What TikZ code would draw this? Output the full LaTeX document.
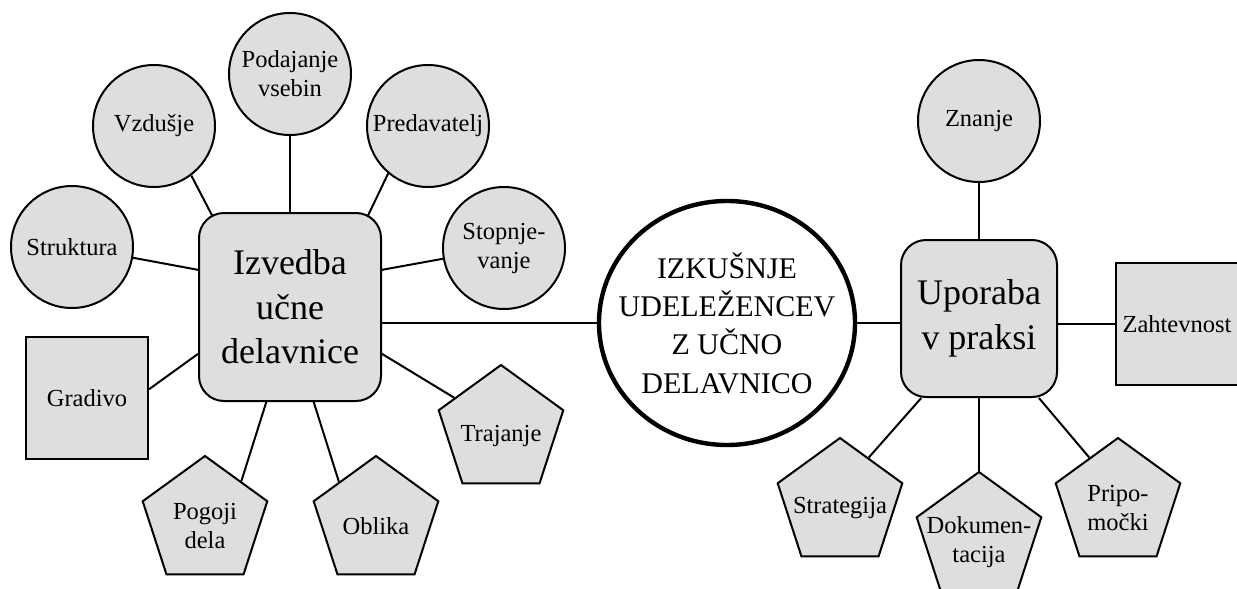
\documentclass[tikz,border=0pt]{standalone}
\usepackage{fontspec}
\setmainfont{Liberation Serif}
\usetikzlibrary{shapes.geometric}
\definecolor{boxgray}{RGB}{221,222,224}
\pgfdeclarelayer{background}
\pgfsetlayers{background,main}

\begin{document}
\begin{tikzpicture}
      [x=0.5pt, y=-0.5pt,
       every node/.style={font=\fontsize{12.25}{14.5}\selectfont, align=center},
       topic/.style={
           circle,
           minimum size=61pt,
           inner sep=1pt,
           draw=black, line width=1pt,
           fill=boxgray
         },
       aspect/.style={
           rectangle,
           minimum size=61pt,
           inner sep=1pt,
           draw=black, line width=1pt,
           fill=boxgray
         },
       factor/.style={
           regular polygon,
           regular polygon sides=5,
           minimum size=65.5pt,
           inner sep=0pt,
           draw=black, line width=1pt,
           fill=boxgray,
           label={[yshift=-2.5pt]center:#1}
         },
       hub/.style={
           rectangle,
           rounded corners=12.5pt,
           draw=black, line width=1pt,
           fill=boxgray,
           font=\fontsize{18}{22.25}\selectfont
         },
       core/.style={
           ellipse,
           minimum width=128pt, minimum height=122pt,
           inner sep=0pt,
           draw=black, line width=2.2pt,
           fill=white,
           label={[font=\fontsize{15}{19.2}\selectfont]center:#1}
         },
       link/.style={draw=black, line width=1pt}
       ]
    \useasboundingbox (0,0) rectangle (1237,589);

    \node [topic] (poda) at (290,74) {Podajanje\\vsebin};
    \node [topic] (vzd) at (154,126) {Vzdušje};
    \node [topic] (pred) at (428,126) {Predavatelj};
    \node [topic] (struk) at (72,247) {Struktura};
    \node [topic] (stop) at (504,248) {Stopnje-\\vanje};
    \node [aspect] (grad) at (87,398) {Gradivo};

    \node [factor={Pogoji\\dela}] (pog) at (205,521.5) {};
    \node [factor=Oblika] (obl) at (376,521.5) {};
    \node [factor=Trajanje] (traj) at (501,430.5) {};

    \node [hub, minimum width=91pt, minimum height=94pt] (izv) at (290,307) {
      Izvedba\\učne\\delavnice
    };

    \node [core={IZKUŠNJE\\UDELEŽENCEV\\Z UČNO\\DELAVNICO}] (izk) at (727,323) {};

    \node [hub, minimum width=78pt, minimum height=78.5pt] (upo) at (979,318.5) {
      Uporaba\\v praksi
    };

    \node [topic] (zna) at (979,121) {Znanje};
    \node [aspect] (zah) at (1177,324) {Zahtevnost};
    \node [factor=Strategija] (str) at (840,503.5) {};
    \node [factor={Dokumen-\\tacija}] (dok) at (979,537.5) {};
    \node [factor={Pripo-\\močki}] (pri) at (1118,503.5) {};

    \begin{pgfonlayer}{background}
      \path (poda) edge [link] (izv)
            (vzd.-53) edge [link, shorten >=-8pt] (izv.130)
            (pred.230) edge [link, shorten >=-8pt] (izv.50)
            (struk.-10) edge [link] (izv.158)
            (stop.190) edge [link] (izv.22)
            (grad.8) edge [link] (izv.207)
            (traj.145) edge [link] (izv.-27)
            (pog.48) edge [link] (izv.-104)
            (obl.133) edge [link] (izv.-76)
            (izk.west) edge [link] (izk.west -| izv.east)
            (izk.east) edge [link] (izk.east -| upo.west)
            (zah.west) edge [link] (zah.west -| upo.east)
            (zna) edge [link] (upo)
            (upo) edge [link] (dok)
            (str.58) edge [link] (upo.-126)
            (pri.122) edge [link] (upo.-53);
    \end{pgfonlayer}

  \end{tikzpicture}
\end{document}
